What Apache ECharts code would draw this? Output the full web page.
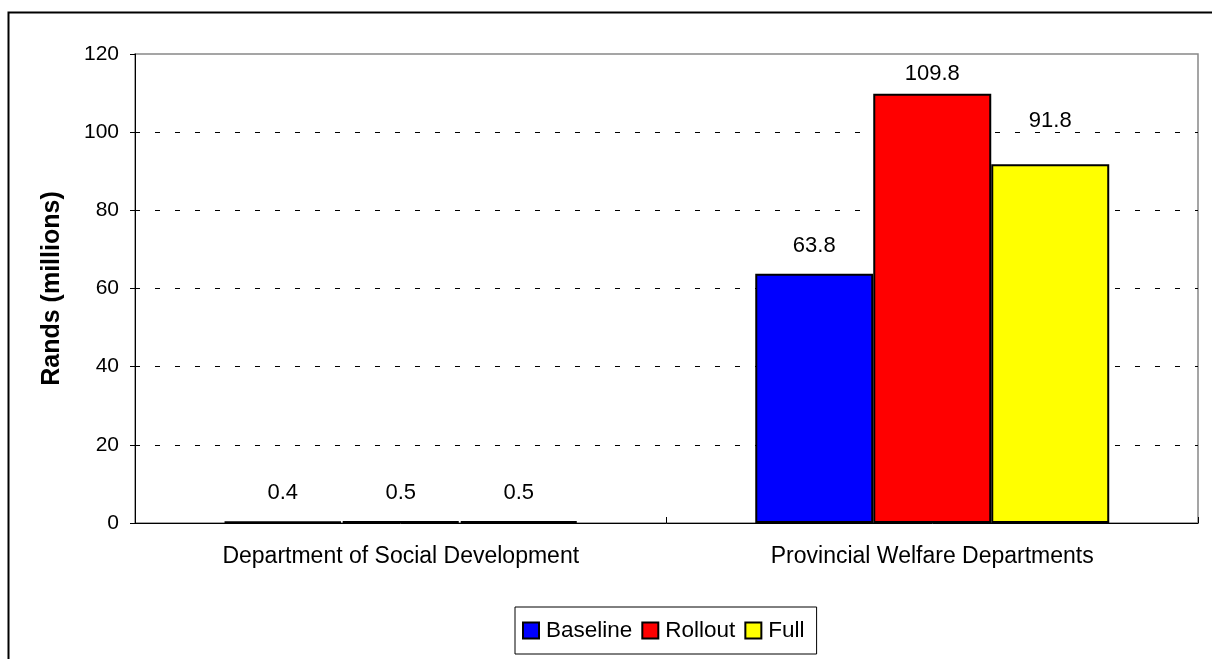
<!DOCTYPE html>
<html>
<head>
<meta charset="utf-8">
<script src="https://cdn.jsdelivr.net/npm/echarts@6/dist/echarts.min.js"></script>
<style>
html,body{margin:0;padding:0;background:#fff;}
#chart{width:1212px;height:659px;}
</style>
</head>
<body>
<div id="chart"></div>
<script>
const categories = ['Department of Social Development', 'Provincial Welfare Departments'];
const seriesNames = ['Baseline', 'Rollout', 'Full'];
const baseline = [0.4, 63.8];
const rollout = [0.5, 109.8];
const full = [0.5, 91.8];
const yTicks = [0, 20, 40, 60, 80, 100, 120];
const colors = ['#0000FF', '#FF0000', '#FFFF00'];
const FONT = 'Liberation Sans, Arial, sans-serif';
// label vertical nudges (style only), per series per category
const labelNudge = [[0, 0], [0, 8], [0, -15]];

const chart = echarts.init(document.getElementById('chart'), null, {renderer: 'canvas'});
const dataSets = [baseline, rollout, full];

const option = {
  backgroundColor: '#ffffff',
  animation: false,
  textStyle: {fontFamily: FONT, color: '#000'},
  graphic: [{
    type: 'rect',
    left: 6, top: 10,
    shape: {x: 0, y: 0, width: 1300, height: 700},
    style: {fill: 'none', stroke: '#000', lineWidth: 2},
    silent: true
  }],
  grid: {
    left: 135, top: 54, right: 14, bottom: 136,
    show: true, borderColor: '#888', borderWidth: 1.5, backgroundColor: 'transparent'
  },
  legend: {
    data: seriesNames,
    left: 515, top: 607,
    padding: [12, 12, 12, 7],
    itemGap: 9,
    itemWidth: 16, itemHeight: 16,
    borderColor: '#000', borderWidth: 1,
    textStyle: {fontFamily: FONT, fontSize: 22.5, color: '#000', padding: [0, 0, 0, 2]},
    icon: 'rect'
  },
  xAxis: {
    type: 'category',
    data: categories,
    axisLine: {show: true, lineStyle: {color: '#000', width: 1}},
    axisTick: {show: true, inside: true, length: 6, lineStyle: {color: '#000'}},
    axisLabel: {fontFamily: FONT, fontSize: 23, color: '#000', margin: 22}
  },
  yAxis: {
    type: 'value',
    min: 0, max: 120, interval: 20,
    name: 'Rands (millions)',
    nameLocation: 'middle',
    nameGap: 70,
    nameRotate: 90,
    nameTextStyle: {fontFamily: FONT, fontSize: 25, fontWeight: 'bold', color: '#000'},
    axisLine: {show: true, lineStyle: {color: '#000', width: 1}},
    axisTick: {show: true, inside: false, length: 5, lineStyle: {color: '#000'}},
    axisLabel: {
      fontFamily: FONT, fontSize: 21, color: '#000', margin: 16,
      formatter: v => yTicks.includes(v) ? String(v) : ''
    },
    splitLine: {
      show: true, showMinLine: false, showMaxLine: false,
      lineStyle: {color: '#000', width: 1, type: [5, 15], dashOffset: 0}
    }
  },
  series: seriesNames.map((name, i) => ({
    name: name,
    type: 'bar',
    data: dataSets[i].map((v, j) => ({
      value: v,
      label: {offset: [0, labelNudge[i][j]]}
    })),
    barGap: '0%',
    barCategoryGap: '33.4%',
    itemStyle: {color: colors[i], borderColor: '#000', borderWidth: 2},
    label: {
      show: true, position: 'top', distance: 17,
      fontFamily: FONT, fontSize: 22, color: '#000',
      formatter: p => Number(p.value).toFixed(1)
    }
  }))
};
chart.setOption(option);
</script>
</body>
</html>
